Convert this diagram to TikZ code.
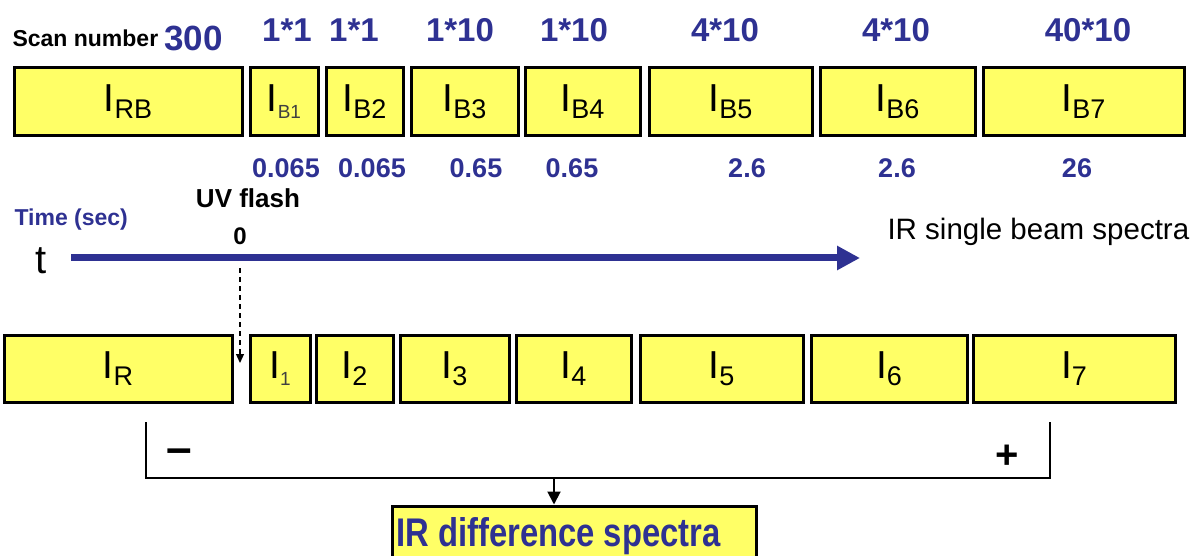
\documentclass[tikz,border=0pt]{standalone}
\usepackage{fontspec}
\setmainfont{Liberation Sans}
\newfontfamily\narrowfont[FakeStretch=0.82]{Liberation Sans}
\usetikzlibrary{arrows.meta}
\definecolor{boxyellow}{HTML}{FFFF66}
\definecolor{navy}{HTML}{2E3192}
\newcommand{\fs}[1]{\fontsize{#1}{#1}\selectfont}
\newcommand{\Ilab}[1]{{\fs{39}I}\raisebox{-7pt}{\fs{27}#1}}
\newcommand{\Ilabs}[1]{{\fs{39}I}\raisebox{-7pt}{\fs{19}\color{darkgray}#1}}
\begin{document}
\begin{tikzpicture}[x=1pt,y=-1pt,
  sbox/.style={draw=black,line width=3pt,fill=boxyellow,inner sep=0pt,minimum height=68pt},
  bbox/.style={sbox,minimum height=67pt},
  numlab/.style={text=navy,font=\bfseries\fs{33}},
  vallab/.style={text=navy,font=\bfseries\fs{27}},
  blklab/.style={text=black,font=\bfseries\fs{26}},
  brk/.style={draw=black,line width=1.5pt}]
\useasboundingbox (0,0) rectangle (1197,556);
\clip (0,0) rectangle (1197,556);
% header
\node[anchor=west,font=\bfseries\fs{23}] (scan) at (9,38) {Scan number};
\node[anchor=west,numlab,font=\bfseries\fs{35}] (n0) at (161,38) {300};
\node[numlab] (n1) at (287,30) {1*1};
\node[numlab] (n2) at (354,30) {1*1};
\node[numlab] (n3) at (460,30) {1*10};
\node[numlab] (n4) at (574,30) {1*10};
\node[numlab] (n5) at (725,30) {4*10};
\node[numlab] (n6) at (896,30) {4*10};
\node[numlab] (n7) at (1088,30) {40*10};
% top boxes
\node[sbox,minimum width=228pt] (rb) at (128,102) {\Ilab{RB}};
\node[sbox,minimum width=68pt] (b1) at (284,102) {\Ilabs{B1}};
\node[sbox,minimum width=77pt] (b2) at (364.5,102) {\Ilab{B2}};
\node[sbox,minimum width=107pt] (b3) at (464.5,102) {\Ilab{B3}};
\node[sbox,minimum width=115pt] (b4) at (582.5,102) {\Ilab{B4}};
\node[sbox,minimum width=163pt] (b5) at (730.5,102) {\Ilab{B5}};
\node[sbox,minimum width=155pt] (b6) at (897.5,102) {\Ilab{B6}};
\node[sbox,minimum width=201pt] (b7) at (1083.5,102) {\Ilab{B7}};
% values
\node[vallab] (v1) at (286,168) {0.065};
\node[vallab] (v2) at (372,168) {0.065};
\node[vallab] (v3) at (476,168) {0.65};
\node[vallab] (v4) at (572,168) {0.65};
\node[vallab] (v5) at (747,168) {2.6};
\node[vallab] (v6) at (897,168) {2.6};
\node[vallab] (v7) at (1077,168) {26};
% time axis
\node[anchor=west,text=navy,font=\bfseries\fs{23}] (time) at (11,220) {Time (sec)};
\node[blklab] (uv) at (248,198) {UV flash};
\node[font=\bfseries\fs{24}] (zero) at (240,236) {0};
\node[font=\fs{40}] (t) at (41,261) {t};
\node[anchor=west,font=\fs{29.5}] (irs) at (884,232) {IR single beam spectra};
\coordinate (ts) at (71,258);
\coordinate (te) at (860,258);
\draw[navy,line width=7pt,-{Triangle[length=23pt,width=23pt]}] (ts) -- (te);
\coordinate (fs) at (240,268);
\coordinate (fe) at (240,363);
\draw[black,line width=1.3pt,dash pattern=on 5pt off 4pt,-{Triangle[length=9pt,width=8pt]}] (fs) -- (fe);
% bottom boxes
\node[bbox,minimum width=228pt] (r) at (118,368.5) {\Ilab{R}};
\node[bbox,minimum width=60pt] (i1) at (280,368.5) {\Ilabs{1}};
\node[bbox,minimum width=77pt] (i2) at (354.5,368.5) {\Ilab{2}};
\node[bbox,minimum width=109pt] (i3) at (454.5,368.5) {\Ilab{3}};
\node[bbox,minimum width=115pt] (i4) at (573.5,368.5) {\Ilab{4}};
\node[bbox,minimum width=163pt] (i5) at (721.5,368.5) {\Ilab{5}};
\node[bbox,minimum width=156pt] (i6) at (889,368.5) {\Ilab{6}};
\node[bbox,minimum width=202pt] (i7) at (1074,368.5) {\Ilab{7}};
% bracket
\coordinate (bl) at (146,422);
\coordinate (br) at (1050,422);
\coordinate (bm) at (554,478);
\draw[brk] (bl) -- (bl |- bm) -- (br |- bm) -- (br);
\node[font=\bfseries\fs{46}] (minus) at (179,456) {–};
\node[font=\bfseries\fs{40}] (plus) at (1007,457) {+};
% result
\node[draw=black,line width=3pt,fill=boxyellow,inner sep=0pt,minimum width=364pt,minimum height=70pt] (diff) at (574,541) {};
\node[anchor=base west,inner sep=0pt,text=navy,font=\narrowfont\bfseries\fs{40}] (difft) at (396,546) {IR difference spectra};
\draw[line width=2pt,-{Triangle[length=13pt,width=13pt]}] (bm) -- (bm |- diff.north);
\end{tikzpicture}
\end{document}
